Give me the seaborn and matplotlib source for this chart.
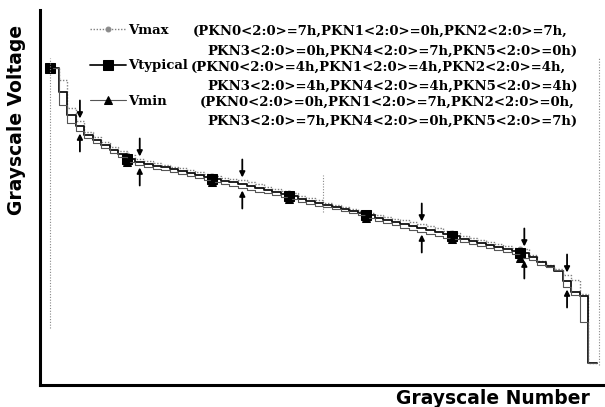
import numpy as np
import pandas as pd
import matplotlib
matplotlib.use("Agg")
import matplotlib.pyplot as plt
import seaborn as sns

# ---------------- data ----------------
gray = list(range(64))

v_max = [3.17, 3.05, 2.77, 2.64, 2.53, 2.48, 2.43, 2.38, 2.34, 2.30,
         2.26, 2.24, 2.22, 2.20, 2.18, 2.17, 2.15, 2.13, 2.11, 2.09,
         2.07, 2.06, 2.05, 2.03, 2.01, 1.98, 1.96, 1.94, 1.92, 1.89,
         1.87, 1.85, 1.82, 1.80, 1.78, 1.76, 1.74, 1.72, 1.70, 1.68,
         1.66, 1.65, 1.63, 1.61, 1.59, 1.57, 1.54, 1.52, 1.49, 1.47,
         1.45, 1.43, 1.41, 1.39, 1.37, 1.36, 1.30, 1.24, 1.20, 1.16,
         1.10, 1.05, 0.91, 0.22]

v_typ = [3.17, 2.93, 2.70, 2.59, 2.50, 2.45, 2.40, 2.35, 2.31, 2.26,
         2.23, 2.21, 2.19, 2.18, 2.16, 2.14, 2.12, 2.10, 2.08, 2.06,
         2.04, 2.03, 2.01, 1.99, 1.97, 1.95, 1.93, 1.91, 1.89, 1.86,
         1.84, 1.82, 1.80, 1.78, 1.76, 1.74, 1.72, 1.70, 1.67, 1.65,
         1.63, 1.61, 1.59, 1.57, 1.55, 1.53, 1.51, 1.49, 1.46, 1.44,
         1.42, 1.40, 1.38, 1.36, 1.34, 1.32, 1.28, 1.23, 1.19, 1.14,
         1.04, 0.93, 0.89, 0.22]

v_min = [3.17, 2.80, 2.62, 2.54, 2.47, 2.42, 2.37, 2.32, 2.28, 2.23,
         2.20, 2.18, 2.16, 2.15, 2.13, 2.11, 2.09, 2.07, 2.05, 2.03,
         2.01, 1.99, 1.97, 1.95, 1.93, 1.92, 1.90, 1.88, 1.86, 1.83,
         1.81, 1.79, 1.78, 1.76, 1.74, 1.72, 1.70, 1.67, 1.64, 1.62,
         1.60, 1.57, 1.55, 1.53, 1.51, 1.49, 1.47, 1.46, 1.43, 1.41,
         1.39, 1.37, 1.35, 1.33, 1.31, 1.27, 1.25, 1.20, 1.18, 1.15,
         0.98, 0.90, 0.63, 0.22]

marker_gray = [0, 9, 19, 28, 37, 47, 55]       # grayscale levels carrying markers
arrow_gray = [3, 10, 22, 43, 55, 60]           # levels marked with the arrow pairs

# dotted guide lines: grayscale position, top voltage, bottom voltage
guide_gray = [0, 32, 64.2]
guide_top = [3.27, 2.10, 3.27]
guide_bottom = [0.57, 1.73, 0.20]

series_names = ["Vmax", "Vtypical", "Vmin"]
series_desc = [
    ["(PKN0<2:0>=7h,PKN1<2:0>=0h,PKN2<2:0>=7h,", "PKN3<2:0>=0h,PKN4<2:0>=7h,PKN5<2:0>=0h)"],
    ["(PKN0<2:0>=4h,PKN1<2:0>=4h,PKN2<2:0>=4h,", "PKN3<2:0>=4h,PKN4<2:0>=4h,PKN5<2:0>=4h)"],
    ["(PKN0<2:0>=0h,PKN1<2:0>=7h,PKN2<2:0>=0h,", "PKN3<2:0>=7h,PKN4<2:0>=0h,PKN5<2:0>=7h)"],
]

# ---------------- figure ----------------
sns.set_theme(style="white")
plt.rcParams["font.family"] = ["DejaVu Sans"]
plt.rcParams["text.color"] = "black"

W, H = 605, 407
fig = plt.figure(figsize=(W / 100, H / 100), dpi=100)
ax = fig.add_axes([40 / W, 1 - 385 / H, 565 / W, 375 / H])

def stepped(vals):
    # close the last step (one grayscale width)
    x = gray + [gray[-1] + 1]
    y = list(vals) + [vals[-1]]
    return pd.DataFrame({"gray": x, "volt": y})

styles = {
    "Vmax": dict(color="#808080", linestyle=(0, (1, 1.2)), linewidth=1.0,
                 marker="o", markersize=3.5, markerfacecolor="#8a8a8a", markeredgecolor="#8a8a8a"),
    "Vtypical": dict(color="#111111", linestyle="-", linewidth=1.3,
                     marker="s", markersize=6.5, markerfacecolor="black", markeredgecolor="black"),
    "Vmin": dict(color="#555555", linestyle="-", linewidth=0.8,
                 marker="^", markersize=5.5, markerfacecolor="black", markeredgecolor="black"),
}

for name, vals in zip(series_names, [v_max, v_typ, v_min]):
    df = stepped(vals)
    sns.lineplot(data=df, x="gray", y="volt", ax=ax, estimator=None, sort=False,
                 drawstyle="steps-post", markevery=marker_gray, label=name,
                 **styles[name])

# dotted guide lines
for gx, gt, gb in zip(guide_gray, guide_top, guide_bottom):
    ax.plot([gx, gx], [gb, gt], color="#888888", linestyle=(0, (1, 1.5)), linewidth=0.8)

# arrow pairs
gap, length = 0.025, 0.18
for g in arrow_gray:
    xa = g + 0.5
    tip = v_max[g] + gap
    ax.annotate("", xy=(xa, tip), xytext=(xa, tip + length),
                arrowprops=dict(arrowstyle="-|>", color="black", lw=1.3,
                                mutation_scale=8, shrinkA=0, shrinkB=0))
    tip = v_min[g] - gap
    ax.annotate("", xy=(xa, tip), xytext=(xa, tip - length),
                arrowprops=dict(arrowstyle="-|>", color="black", lw=1.3,
                                mutation_scale=8, shrinkA=0, shrinkB=0))

ax.set_xlim(-1.17, 64.94)
ax.set_ylim(0, 3.75)
ax.set_xticks([])
ax.set_yticks([])
ax.set_xlabel("")
ax.set_ylabel("")
for s in ["top", "right"]:
    ax.spines[s].set_visible(False)
for s in ["left", "bottom"]:
    ax.spines[s].set_color("black")
    ax.spines[s].set_linewidth(2.2)

# legend
serif = ["DejaVu Serif"]
fs = 9.5
leg = ax.legend(loc="upper left", bbox_to_anchor=(90 / W, 1 - 24 / H),
                bbox_transform=fig.transFigure, frameon=False, borderpad=0,
                borderaxespad=0, handlelength=2.7, handletextpad=0.2,
                labelspacing=1.7, prop=dict(family=serif, weight="bold", size=fs))
for t in leg.get_texts():
    t.set_color("black")

# description lines
desc_pos = [[(193, 31), (207, 51)], [(191, 67), (207, 86)], [(200, 102), (207, 121)]]
for lines, poss in zip(series_desc, desc_pos):
    for txt, (px, py) in zip(lines, poss):
        fig.text(px / W, 1 - py / H, txt, ha="left", va="center", color="black",
                 family=serif, weight="bold", fontsize=fs)

# axis titles
fig.text(17 / W, 1 - 120 / H, "Grayscale Voltage", rotation=90, ha="center", va="center",
         fontsize=13.5, weight="heavy", color="black")
fig.text(493 / W, 1 - 398 / H, "Grayscale Number", ha="center", va="center",
         fontsize=13.5, weight="heavy", color="black")

fig.savefig("out.png", dpi=100)
